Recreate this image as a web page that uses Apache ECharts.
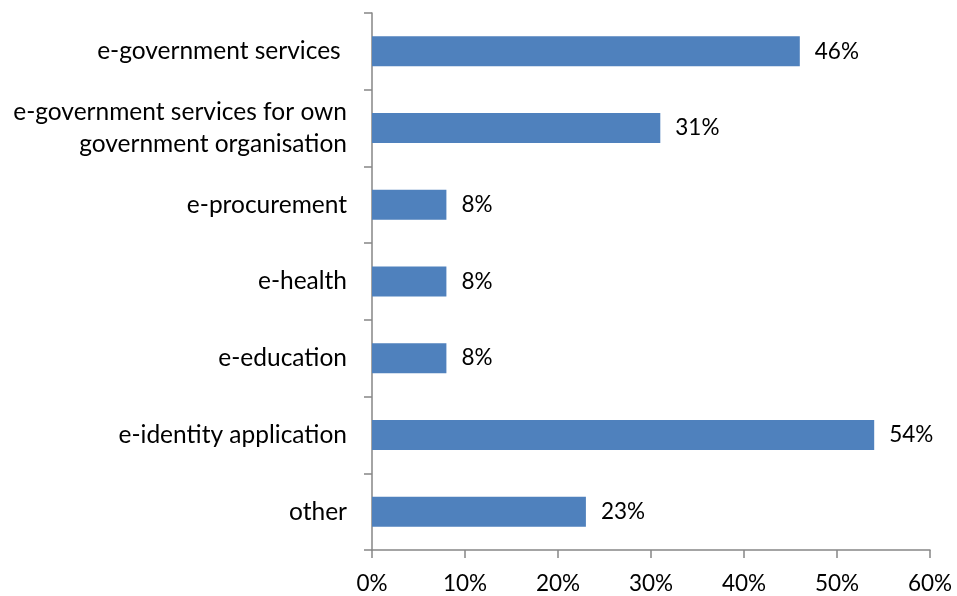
<!DOCTYPE html>
<html>
<head>
<meta charset="utf-8">
<script src="https://cdn.jsdelivr.net/npm/echarts@6/dist/echarts.min.js"></script>
<style>
  html, body { margin: 0; padding: 0; background: #fff; }
  #chart { width: 957px; height: 596px; }
</style>
</head>
<body>
<div id="chart"></div>
<script>
// Categories listed bottom-to-top for the category y axis
const categories = [
  'other',
  'e-identity application',
  'e-education',
  'e-health',
  'e-procurement',
  'e-government services for own\ngovernment organisation',
  'e-government services '
];
const shares = [23, 54, 8, 8, 8, 31, 46];
const xTicks = [0, 10, 20, 30, 40, 50, 60];

const FONT = 'Lato';
const axisGray = '#868686';

const chart = echarts.init(document.getElementById('chart'), null, { renderer: 'canvas' });
chart.setOption({
  backgroundColor: '#ffffff',
  animation: false,
  grid: { left: 372, right: 27, top: 13, bottom: 46, containLabel: false },
  xAxis: {
    type: 'value',
    min: xTicks[0],
    max: xTicks[xTicks.length - 1],
    interval: 10,
    axisLine: { show: true, lineStyle: { color: axisGray, width: 1.5 } },
    axisTick: { show: true, length: 8, lineStyle: { color: axisGray, width: 1.5 } },
    splitLine: { show: false },
    axisLabel: {
      formatter: v => v + '%',
      color: '#000',
      fontFamily: FONT,
      fontSize: 22.5,
      margin: 22
    }
  },
  yAxis: {
    type: 'category',
    data: categories,
    axisLine: { show: true, lineStyle: { color: axisGray, width: 1.5 } },
    axisTick: { show: true, length: 8, inside: false, lineStyle: { color: axisGray, width: 1.5 } },
    axisLabel: {
      color: '#000',
      fontFamily: FONT,
      fontSize: 24.5,
      lineHeight: 32,
      margin: 25,
      align: 'right'
    }
  },
  series: [{
    type: 'bar',
    data: shares,
    barWidth: 30,
    itemStyle: { color: '#4F81BD' },
    label: {
      show: true,
      position: 'right',
      distance: 15,
      formatter: p => p.value + '%',
      color: '#000',
      fontFamily: FONT,
      fontSize: 22.5
    }
  }]
});
</script>
</body>
</html>
